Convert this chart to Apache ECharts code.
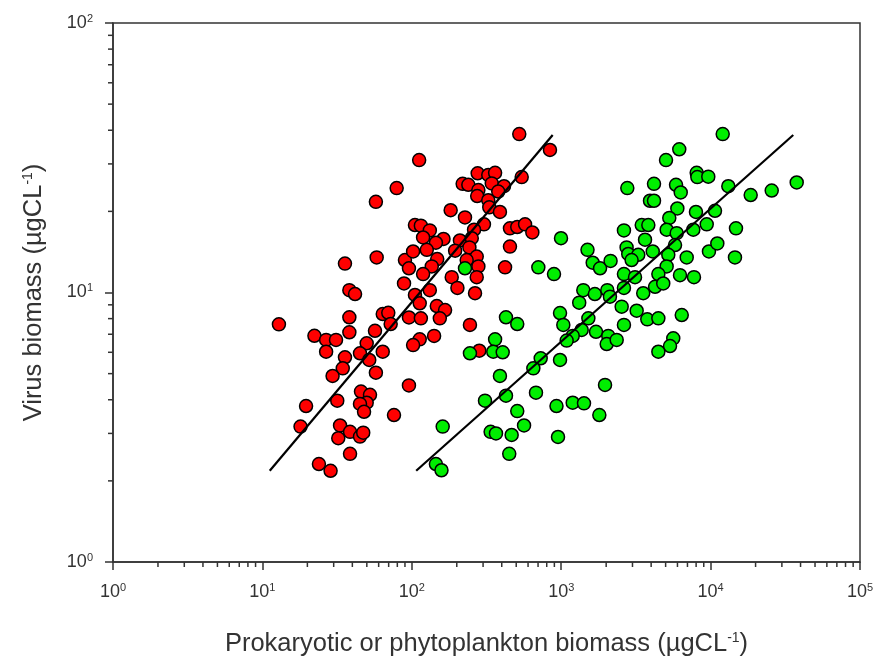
<!DOCTYPE html>
<html><head><meta charset="utf-8">
<script src="https://cdn.jsdelivr.net/npm/echarts@6.0.0/dist/echarts.min.js"></script>
<style>html,body{margin:0;padding:0;background:#fff}#c{width:881px;height:656px}</style>
</head><body><div id="c"></div>
<script>
// Prokaryote biomass (µgC/L) vs virus biomass (µgC/L)
const redPoints = [
[79.2,24.4],[57.5,21.7],[35.7,12.8],[58.2,13.5],[90.0,13.2],[95.7,12.3],[88.7,10.8],[38.2,10.2],[41.7,9.87],
[12.9,7.62],[38.2,8.09],[22.3,6.91],[26.7,6.67],[31.1,6.67],[38.2,7.12],[26.7,6.03],[56.7,7.21],[63.9,8.32],
[69.6,8.41],[72.2,7.64],[49.9,6.48],[45.0,5.95],[51.9,5.62],[63.9,6.03],[35.7,5.75],[34.5,5.23],[29.5,4.90],
[57.5,5.04],[45.7,4.29],[52.5,4.17],[49.9,3.90],[45.0,3.86],[47.9,3.61],[31.7,3.97],[19.6,3.79],[76.0,3.51],
[18.0,3.18],[33.1,3.21],[38.6,3.04],[45.0,2.92],[47.3,3.02],[32.2,2.88],[38.6,2.52],[23.9,2.31],[28.6,2.18],
[95.7,4.52],[95.7,8.08],
[524,38.7],[841,33.8],[112,31.0],[276,27.7],[325,27.3],[361,27.8],[544,26.8],[219,25.3],[239,25.1],[279,24.0],
[343,25.4],[414,24.8],[379,23.7],[274,22.8],[325,22.0],[330,20.7],[389,19.9],[182,20.2],[227,19.0],[304,17.9],
[261,17.1],[454,17.3],[508,17.5],[573,17.9],[641,16.7],[105,17.8],[115,17.7],[132,17.0],[119,16.0],[163,15.8],
[145,15.3],[210,15.6],[252,15.9],[243,14.7],[454,14.8],[102,14.2],[126,14.4],[195,14.3],[148,13.3],[272,13.6],
[136,12.5],[233,13.2],[279,12.5],[421,12.4],[119,11.7],[185,11.4],[272,11.4],[132,10.2],[202,10.4],[265,9.94],
[105,9.79],[113,9.12],[147,8.91],[167,8.61],[115,8.02],[154,8.02],[245,7.58],[113,6.70],[102,6.38],[141,6.90],
[283,6.08]
];
// Phytoplankton biomass (µgC/L) vs virus biomass (µgC/L)
const greenPoints = [
[227,12.3],[703,12.4],[895,11.7],[997,15.9],[427,8.09],[508,7.64],[982,8.39],[361,6.70],[245,5.95],[351,6.03],
[406,6.00],[729,5.70],[651,5.23],[982,5.62],[389,4.90],[309,3.97],[427,4.14],[678,4.25],[930,3.79],[508,3.63],
[564,3.21],[161,3.18],[337,3.04],[366,3.00],[466,2.96],[952,2.91],[449,2.52],[145,2.31],[158,2.19],
[6170,34.0],[5030,31.0],[8070,27.8],[8150,26.8],[9650,26.9],[2770,24.4],[4180,25.3],[5870,25.1],[6310,23.5],
[3930,21.9],[4180,21.9],[5990,20.5],[7980,19.9],[5290,18.9],[9420,17.9],[2630,17.0],[3460,17.8],[3830,17.8],
[5080,17.1],[5930,16.6],[7660,17.1],[3640,15.7],[1500,14.4],[2740,14.7],[2810,13.9],[3280,13.8],[4100,14.2],
[5780,15.0],[5210,13.8],[6920,13.5],[9750,14.2],[1625,12.9],[1820,12.3],[2140,13.1],[2960,13.2],[5080,12.5],
[2630,11.7],[3120,11.4],[4470,11.7],[6240,11.6],[7740,11.4],[1406,10.2],[1680,9.87],[2035,10.2],[2630,10.4],
[4250,10.5],[4820,10.8],[3540,9.94],[2120,9.65],
[1320,9.17],[1033,7.58],[1520,8.02],[1371,7.26],[1194,6.90],[1088,6.63],[1710,7.15],[2066,6.90],[2016,6.44],
[2352,6.67],[2540,8.86],[3200,8.56],[3770,7.95],[4470,8.02],[2630,7.58],[6410,8.25],[5625,6.76],[5350,6.33],
[4470,6.03],[1965,4.54],[1194,3.90],[1421,3.88],[1800,3.51],
[12050,38.7],[13140,24.8],[18550,23.0],[25650,23.9],[37700,25.6],[10700,20.1],[14790,17.3],[11090,15.2],[14560,13.5]
];
// Fitted regression lines (end points)
const redLine = [[11.2,2.18],[877,38.4]];
const greenLine = [[107,2.18],[35750,38.4]];

// Axis ranges and minor tick positions (log decades x 2..9)
const xRange = [1, 100000];
const yRange = [1, 100];
const minorMultipliers = [2,3,4,5,6,7,8,9];
const xDecades = [1,10,100,1000,10000];
const yDecades = [1,10];
const xMinor = []; xDecades.forEach(d => minorMultipliers.forEach(m => xMinor.push([d*m, 1])));
const yMinor = []; yDecades.forEach(d => minorMultipliers.forEach(m => yMinor.push([1, d*m])));

const FONT = '"Liberation Sans", Arial, sans-serif';
const AX = '#333';
function powLabel(v){ const e = Math.round(Math.log10(v)); return '{n|10}{s|' + e + '}'; }
const labelRich = {
  n:{fontSize:18, fontFamily:FONT, color:AX, lineHeight:20},
  s:{fontSize:11, fontFamily:FONT, color:AX, verticalAlign:'top', lineHeight:11, padding:[0,0,9,0]}
};
const nameRich = {
  sup:{fontSize:14, fontFamily:FONT, color:AX, verticalAlign:'top', lineHeight:14, padding:[0,0,11,0]}
};

const chart = echarts.init(document.getElementById('c'), null, {renderer:'canvas'});
function minorTicks(dir){
  return function(params, api){
    const p = api.coord([api.value(0), api.value(1)]);
    const shape = dir === 'x'
      ? {x1:p[0], y1:p[1], x2:p[0], y2:p[1]+5}
      : {x1:p[0]-5, y1:p[1], x2:p[0], y2:p[1]};
    return {type:'line', shape:shape, style:{stroke:AX, lineWidth:1.5}};
  };
}
chart.setOption({
  animation:false,
  backgroundColor:'#fff',
  grid:{left:113, right:21, top:23, bottom:94, show:true, borderColor:AX, borderWidth:1.5,
        backgroundColor:'transparent', containLabel:false, outerBoundsMode:'none'},
  xAxis:{
    type:'log', logBase:10, min:xRange[0], max:xRange[1],
    axisLine:{show:true, lineStyle:{color:AX, width:1.5}},
    axisTick:{show:true, inside:false, length:8, lineStyle:{color:AX, width:1.5}},
    splitLine:{show:false},
    axisLabel:{formatter:powLabel, rich:labelRich, margin:20, color:AX},
    name:'Prokaryotic or phytoplankton biomass (µgCL{sup|-1})',
    nameLocation:'middle', nameGap:69,
    nameTextStyle:{fontSize:25.5, fontFamily:FONT, color:AX, rich:nameRich}
  },
  yAxis:{
    type:'log', logBase:10, min:yRange[0], max:yRange[1],
    axisLine:{show:true, lineStyle:{color:AX, width:1.5}},
    axisTick:{show:true, inside:false, length:8, lineStyle:{color:AX, width:1.5}},
    splitLine:{show:false},
    axisLabel:{formatter:powLabel, rich:labelRich, margin:20, color:AX},
    name:'Virus biomass (µgCL{sup|-1})',
    nameLocation:'middle', nameGap:66,
    nameTextStyle:{fontSize:25.5, fontFamily:FONT, color:AX, rich:nameRich}
  },
  series:[
    {type:'scatter', data:redPoints, symbol:'circle', symbolSize:13, z:2,
     itemStyle:{color:'#ff0000', borderColor:'#000', borderWidth:1.5, opacity:1}},
    {type:'scatter', data:greenPoints, symbol:'circle', symbolSize:13, z:2,
     itemStyle:{color:'#00ee00', borderColor:'#000', borderWidth:1.5, opacity:1}},
    {type:'line', data:redLine, symbol:'none', z:4, lineStyle:{color:'#000', width:2.2}},
    {type:'line', data:greenLine, symbol:'none', z:4, lineStyle:{color:'#000', width:2.2}},
    {type:'custom', data:xMinor, clip:false, silent:true, z:5, renderItem:minorTicks('x')},
    {type:'custom', data:yMinor, clip:false, silent:true, z:5, renderItem:minorTicks('y')}
  ]
});
</script>
</body></html>
